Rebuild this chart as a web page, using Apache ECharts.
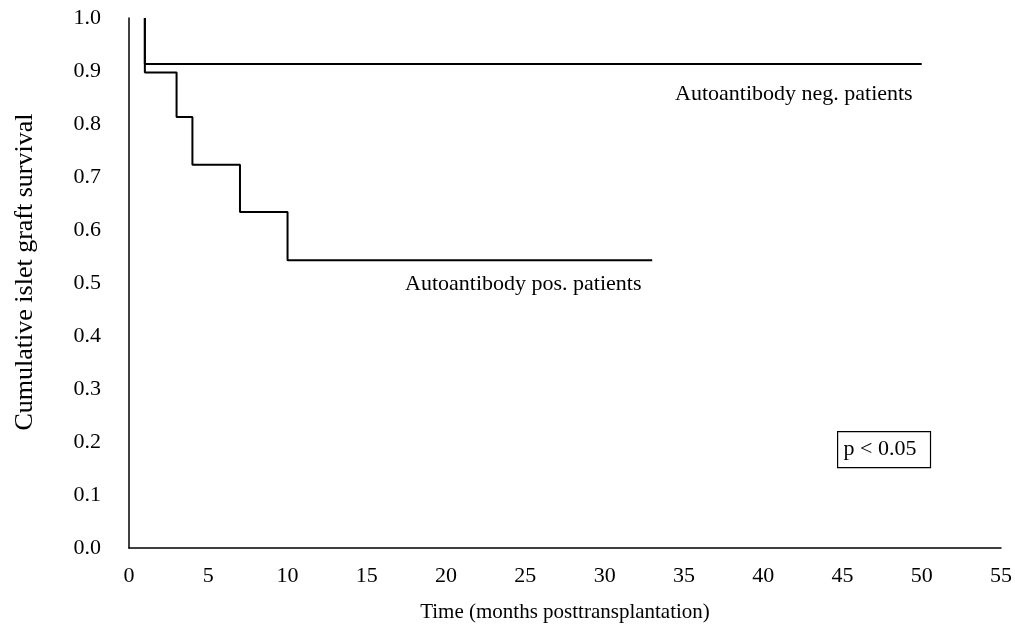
<!DOCTYPE html>
<html lang="en">
<head>
    <meta charset="UTF-8">
    <title>Islet graft survival</title>
    <script src="https://cdn.jsdelivr.net/npm/echarts@6/dist/echarts.min.js"></script>
    <style>
        html, body { margin: 0; padding: 0; background: #fff; }
        #chart { width: 1015px; height: 635px; }
    </style>
</head>
<body>
<div id="chart"></div>
<script>
    // ------------------------- data -------------------------
    const xTicks = [0, 5, 10, 15, 20, 25, 30, 35, 40, 45, 50, 55];
    const yTicks = [0, 0.1, 0.2, 0.3, 0.4, 0.5, 0.6, 0.7, 0.8, 0.9, 1.0];

    // event times (months) and survival after each event, step drawn at end
    const negTimes = [1, 1, 50];
    const negSurvival = [1.0, 0.913, 0.913];

    const posTimes = [1, 1, 3, 4, 7, 10, 33];
    const posSurvival = [1.0, 0.897, 0.813, 0.723, 0.634, 0.543, 0.543];

    const fontSerif = '"Liberation Serif", "DejaVu Serif", serif';

    const chart = echarts.init(document.getElementById('chart'));

    const option = {
        animation: false,
        backgroundColor: '#fff',
        grid: { left: 129, right: 12, top: 18, bottom: 87 },
        xAxis: {
            type: 'value',
            min: 0,
            max: 55,
            interval: 5,
            name: 'Time (months posttransplantation)',
            nameLocation: 'middle',
            nameGap: 54,
            nameTextStyle: { fontFamily: fontSerif, fontSize: 21, color: '#000' },
            axisLine: { lineStyle: { color: '#000', width: 1.5 } },
            axisTick: { show: false },
            splitLine: { show: false },
            axisLabel: {
                margin: 17,
                fontFamily: fontSerif, fontSize: 22, color: '#000',
                formatter: v => xTicks.includes(v) ? String(v) : ''
            }
        },
        yAxis: {
            type: 'value',
            min: 0,
            max: 1,
            interval: 0.1,
            name: 'Cumulative islet graft survival',
            nameLocation: 'middle',
            nameGap: 91,
            nameTextStyle: {
                fontFamily: fontSerif, fontSize: 26, color: '#000',
                padding: [0, 0, 0, 22]   // nudges the title slightly upward
            },
            axisLine: { show: true, lineStyle: { color: '#000', width: 1.5 } },
            axisTick: { show: false },
            splitLine: { show: false },
            axisLabel: {
                margin: 28,
                fontFamily: fontSerif, fontSize: 22, color: '#000',
                formatter: v => {
                    const t = yTicks.find(y => Math.abs(y - v) < 1e-6);
                    return t === undefined ? '' : t.toFixed(1);
                }
            }
        },
        series: [
            {
                name: 'Autoantibody neg. patients',
                type: 'line',
                step: 'end',
                symbol: 'none',
                lineStyle: { color: '#000', width: 2 },
                data: negTimes.map((t, i) => [t, negSurvival[i]])
            },
            {
                name: 'Autoantibody pos. patients',
                type: 'line',
                step: 'end',
                symbol: 'none',
                lineStyle: { color: '#000', width: 2 },
                data: posTimes.map((t, i) => [t, posSurvival[i]])
            }
        ],
        graphic: [
            {
                type: 'text',
                left: 675, top: 83,
                style: { text: 'Autoantibody neg. patients', font: '22px ' + fontSerif, fill: '#000' }
            },
            {
                type: 'text',
                left: 405, top: 273,
                style: { text: 'Autoantibody pos. patients', font: '22px ' + fontSerif, fill: '#000' }
            },
            {
                type: 'text',
                left: 837, top: 431,
                style: {
                    text: 'p < 0.05',
                    font: '22px ' + fontSerif,
                    fill: '#000',
                    padding: [7, 14, 7, 6],
                    borderColor: '#000',
                    borderWidth: 1.2
                }
            }
        ]
    };

    chart.setOption(option);
</script>
</body>
</html>
